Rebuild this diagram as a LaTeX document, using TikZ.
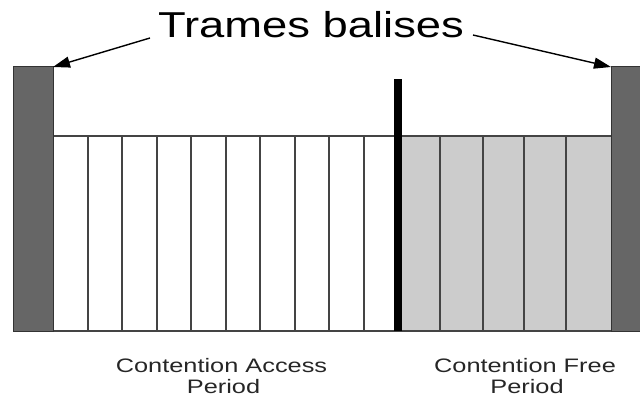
\documentclass[tikz,border=0pt]{standalone}
\usepackage{fontspec}
\setmainfont{Liberation Sans}
\usetikzlibrary{arrows.meta}
\definecolor{beacon}{HTML}{666666}
\definecolor{cfp}{HTML}{CCCCCC}
\definecolor{slotline}{HTML}{444444}
\tikzset{
  beaconbar/.style={fill=beacon, draw=black!80, line width=1pt},
  slotdiv/.style={draw=slotline, line width=2pt},
  framebox/.style={draw=slotline, line width=1.5pt},
  pointer/.style={draw=black, line width=1.4pt, -{Triangle[length=17pt,width=11pt]}},
  titletext/.style={font=\fontsize{36}{40}\selectfont, inner sep=0pt},
  captext/.style={font=\fontsize{19.5}{22}\selectfont, inner sep=0pt, text=black!85},
}
\begin{document}
\begin{tikzpicture}[x=1pt,y=-1pt]
  \useasboundingbox (0,0) rectangle (640,398);
  % contention free region fill
  \fill[cfp] (402,136) rectangle (611,331);
  % frame
  \draw[framebox] (53,136) -- (611,136);
  \draw[framebox] (53,331) -- (611,331);
  % CAP slot dividers
  \foreach \i in {1,...,9} {
    \draw[slotdiv] ({53+34.5*\i},136) -- ({53+34.5*\i},331);
  }
  % CFP slot dividers
  \foreach \xx in {440,483,524,566} {
    \draw[slotdiv] (\xx,136) -- (\xx,331);
  }
  % beacon bars
  \filldraw[beaconbar] (13,67) rectangle (53,331);
  \fill[beacon] (611,67) rectangle (640,331);
  \draw[black!80, line width=1pt] (640,67) -- (611,67) -- (611,331) -- (640,331);
  \coordinate (leftbeacon) at (53,67);
  \coordinate (rightbeacon) at (611,67);
  % superframe boundary
  \fill[black] (394,79) rectangle (402,331);
  % title
  \node[titletext, anchor=base] (title) at (311,38) {\scalebox{1.26}[1]{Trames balises}};
  \coordinate (lstart) at (150,38);
  \coordinate (rstart) at (473,35);
  \draw[pointer] (lstart) -- (leftbeacon);
  \draw[pointer] (rstart) -- (rightbeacon);
  % captions
  \node[captext, anchor=base] (capa) at (221.5,372) {\scalebox{1.3}[1]{Contention Access}};
  \node[captext, anchor=base] (capb) at (223.5,393) {\scalebox{1.3}[1]{Period}};
  \node[captext, anchor=base] (cfpa) at (525,372) {\scalebox{1.3}[1]{Contention Free}};
  \node[captext, anchor=base] (cfpb) at (527,393) {\scalebox{1.3}[1]{Period}};
\end{tikzpicture}
\end{document}
